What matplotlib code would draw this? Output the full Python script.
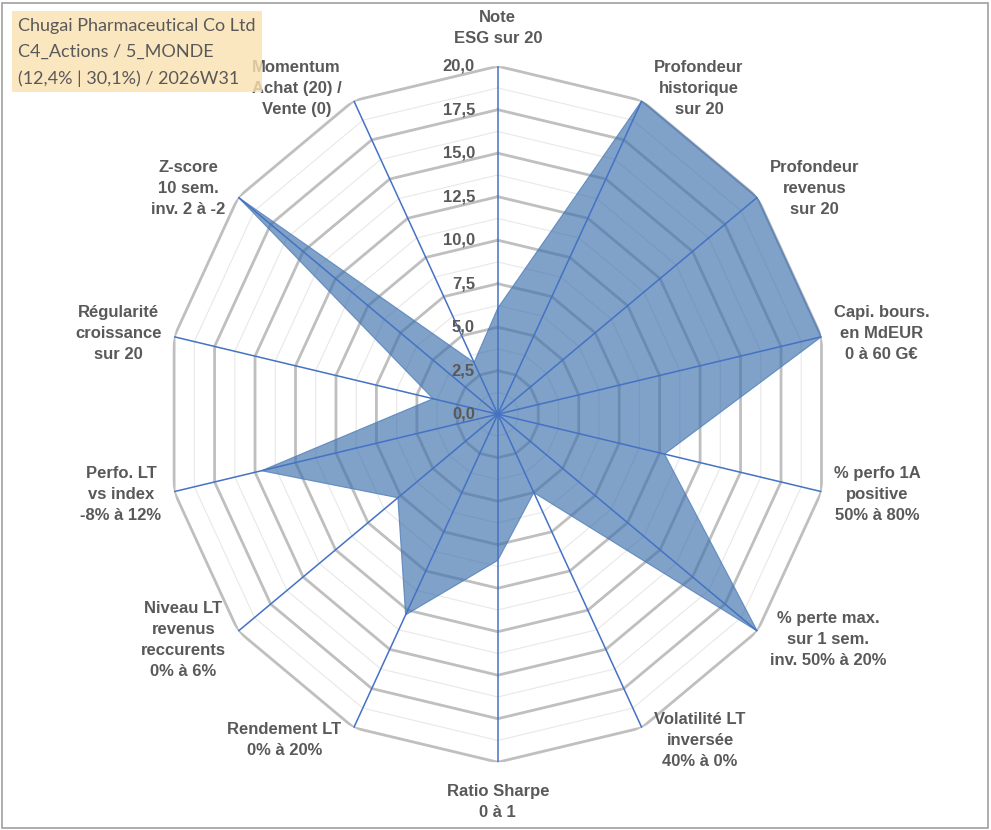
import matplotlib.pyplot as plt
import numpy as np
from matplotlib.patches import Rectangle

# axis names, clockwise from the top
categories = [
    "Note\nESG sur 20",
    "Profondeur\nhistorique\nsur 20",
    "Profondeur\nrevenus\nsur 20",
    "Capi. bours.\nen MdEUR\n0 à 60 G€",
    "% perfo 1A\npositive\n50% à 80%",
    "% perte max.\nsur 1 sem.\ninv. 50% à 20%",
    "Volatilité LT\ninversée\n40% à 0%",
    "Ratio Sharpe\n0 à 1",
    "Rendement LT\n0% à 20%",
    "Niveau LT\nrevenus\nreccurents\n0% à 6%",
    "Perfo. LT\nvs index\n-8% à 12%",
    "Régularité\ncroissance\nsur 20",
    "Z-score\n10 sem.\ninv. 2 à -2",
    "Momentum\nAchat (20) /\nVente (0)",
]
scores = [6.1, 20, 20, 20, 10.3, 20, 5.0, 8.4, 12.8, 7.7, 14.6, 4.0, 20, 3.3]

major_ticks = [0, 2.5, 5, 7.5, 10, 12.5, 15, 17.5, 20]
tick_labels = ["0,0", "2,5", "5,0", "7,5", "10,0", "12,5", "15,0", "17,5", "20,0"]
minor_ticks = [1.25, 3.75, 6.25, 8.75, 11.25, 13.75, 16.25, 18.75]

title_lines = ["Chugai Pharmaceutical Co Ltd",
               "C4_Actions / 5_MONDE",
               "(12,4% | 30,1%) / 2026W31"]

W, H = 991, 830
fig = plt.figure(figsize=(W / 100, H / 100), dpi=100)
fig.patch.set_facecolor("white")

# chart area: slightly squeezed horizontally like the reference
cx, cy, rx, ry = 497.8, 414.2, 332, 348
ax = fig.add_axes([(cx - rx) / W, (H - cy - ry) / H, 2 * rx / W, 2 * ry / H],
                  projection="polar")
ax.set_aspect("auto")
ax.set_theta_zero_location("N")
ax.set_theta_direction(-1)
ax.set_ylim(0, 20)
ax.grid(False)
ax.spines["polar"].set_visible(False)
ax.set_xticks([])
ax.set_yticks([])
ax.patch.set_visible(False)

n = len(categories)
theta = np.linspace(0, 2 * np.pi, n, endpoint=False)
theta_c = np.append(theta, theta[0])

# polygon grid
for r in minor_ticks:
    ax.plot(theta_c, [r] * (n + 1), color="#E8E8E8", lw=0.8, zorder=1)
for r in major_ticks[1:]:
    ax.plot(theta_c, [r] * (n + 1), color="#BFBFBF", lw=2.0, zorder=2)

# data area
vals = np.append(scores, scores[0])
ax.fill(theta_c, vals, facecolor=(62 / 255, 112 / 255, 172 / 255), alpha=0.66,
        edgecolor="none", zorder=3)
ax.plot(theta_c, vals, color="#4F7FBA", lw=0.8, alpha=0.8, zorder=3)

# spokes
for t in theta:
    ax.plot([t, t], [0, 20], color="#4472C4", lw=1.1, zorder=4)

# value labels along the vertical axis
for r, lab in zip(major_ticks, tick_labels):
    ax.annotate(lab, xy=(0, r), xytext=(-16.5, 0), textcoords="offset points",
                ha="right", va="center", fontsize=12, fontweight="bold",
                color="#595959", family="Liberation Sans", zorder=6)

# category labels
for t, lab in zip(theta, categories):
    s, c = np.sin(t), np.cos(t)
    if abs(s) < 0.1:
        ha = "center"
        dx = 0
        if c > 0:
            va, dy = "bottom", 14.5
        else:
            va, dy = "top", -16
    else:
        ha = "left" if s > 0 else "right"
        dx = 9 * np.sign(s)
        va, dy = "center", c * 10
    ax.annotate(lab, xy=(t, 20), xytext=(dx, dy), textcoords="offset points",
                ha=ha, va=va, multialignment="center", fontsize=12,
                fontweight="bold", color="#595959", family="Liberation Sans",
                linespacing=1.5, zorder=6, annotation_clip=False)

# title box (drawn over the chart, slightly see-through)
fig.patches.append(Rectangle((12 / W, 1 - 92 / H), 250 / W, 81 / H,
                             transform=fig.transFigure, facecolor="#FBE2B0",
                             edgecolor="none", alpha=0.8, zorder=1))
fig.text(18 / W, 1 - 18 / H, "\n".join(title_lines), ha="left", va="top",
         fontsize=13, color="#595959", family="Lato", linespacing=1.78,
         zorder=3)

# outer frame
fig.patches.append(Rectangle((2 / W, 2 / H), 986 / W, 825 / H,
                             transform=fig.transFigure, fill=False,
                             edgecolor="#A0A0A0", lw=1.2, zorder=2))

fig.savefig("out.png", dpi=100)
